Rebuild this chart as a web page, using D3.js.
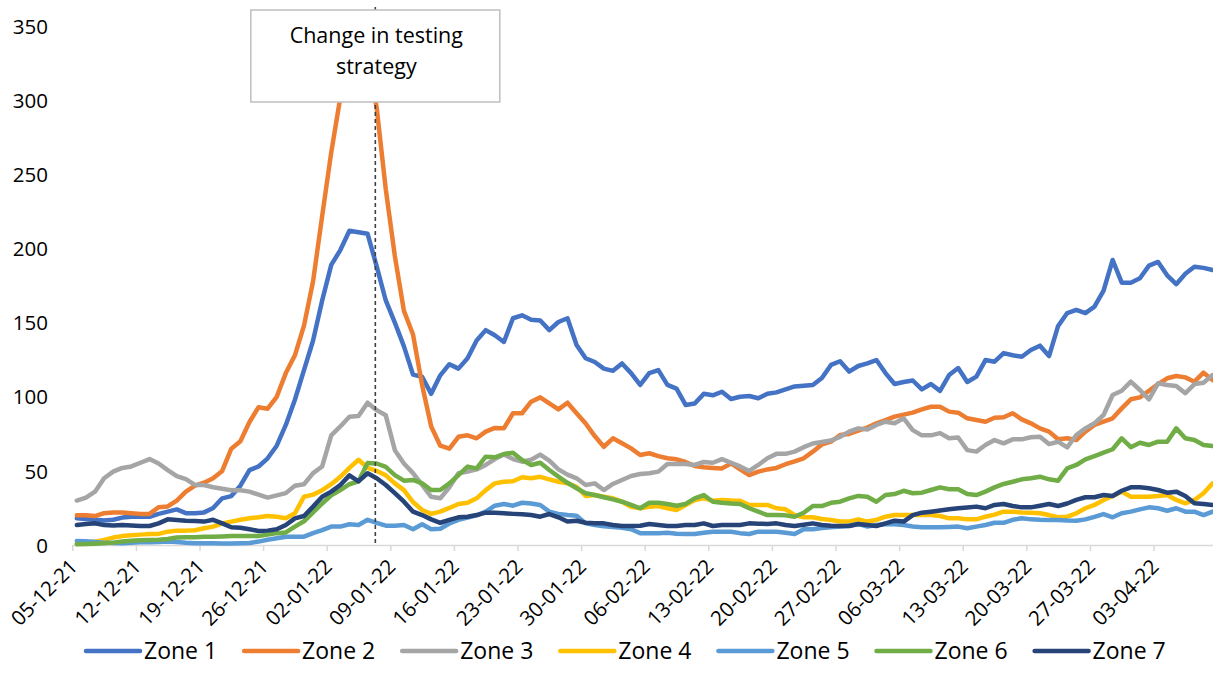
<!DOCTYPE html>
<html><head><meta charset="utf-8">
<script src="https://cdn.jsdelivr.net/npm/d3@7"></script>
<style>body{margin:0;background:#fff} svg{display:block} text{font-family:"Open Sans",sans-serif}</style>
</head><body><svg id="chart" width="1213" height="691"></svg>
<script>
const tickLabels = ["05-12-21","12-12-21","19-12-21","26-12-21","02-01-22","09-01-22","16-01-22","23-01-22","30-01-22","06-02-22","13-02-22","20-02-22","27-02-22","06-03-22","13-03-22","20-03-22","27-03-22","03-04-22"];
const yTicks = [0,50,100,150,200,250,300,350];
const seriesNames = ["Zone 1","Zone 2","Zone 3","Zone 4","Zone 5","Zone 6","Zone 7"];
const colors = ["#4472c4","#ed7d31","#a5a5a5","#ffc000","#5b9bd5","#70ad47","#264478"];
const annotationText = ["Change in testing","strategy"];
const annotationDay = [32.85];

const zone1 = [
18,17.5,17,16.5,17,18.5,19,
19,19,21,22.5,24,21.5,21.5,
22,25,31.5,33,40,50.5,53,
58.5,67,81,98,118,138,165,
189,199,212,211,210,188,165,
150,134,115,113.5,102,114.5,122,
119,126,138,145,141.5,137,153,
155,152,151.5,145,150.5,153,135,
126,123.5,119,117.5,122.5,116,108,
116,118,108,105.5,94.5,95.5,102,
101,103.4,98.5,100,100.5,99,102,
103,105,107,107.5,108,112.7,121.5,
124,117,120.8,122.5,124.8,116,108.6,
110,111,105,108.6,104,114.7,119.4,
110,113.6,124.8,123.7,129.5,128,127,
131.6,134.5,127.5,147.8,156.5,158.6,156.5,
160.8,171.6,192.3,177,177,180,188.5,
191,182,176,183,187.8,187,185.6];
const zone2 = [
20,20,19.5,21.5,22,22,21.5,
21,21,25.5,26,30,36,40,
42,45,50,65,70,83,93,
92,100,116,128,148,178,222,
265,302,330,345,330,295,240,
195,158,142,108,80,67,65,
73,74,72,76.5,79,78.7,88.9,
88.9,96.7,99.6,95.6,91.5,96,88.9,
82,73.5,66.3,72,68.6,65.2,60.7,
61.9,60,58.5,57.8,56,53.3,52.4,
52,51.7,55,51,47.2,49.5,51,
52,54.5,56.5,58.5,63,67.9,69.7,
74.2,74.9,77.1,79.2,82.1,84.3,86.6,
88,89.3,91.5,93.3,93.3,90,89.3,
85.5,84.3,83.2,85.9,86.2,88.9,84.8,
82.1,78.7,76.5,71.3,72,70.8,76.5,
81,83.2,85.5,92.2,98.3,99.6,104.1,
108.6,112.5,114,113.1,110.2,116.3,111.3];
const zone3 = [
30,32,36,45,49.5,52,53,
55.5,58,55,50.5,46.5,44.5,40.5,
40.5,39,38,37,37,36,34,
32,33.5,35,40,41,48.5,53,
74,80,86.5,87,96,91,87.5,
64,55,48.5,40.5,32.5,31.5,39,
48.4,49.5,51,54,58,61,58,
56.2,57.5,61,57,51,47.5,45,
40.5,41.6,37.1,41.2,43.9,46.6,47.9,
48.4,49.5,54.7,54.7,54.7,54,56,
55.5,58,55.5,53,50,54,58.5,
61.5,61.5,63,66,68.5,69.5,70.5,
73,76.5,78.7,78,81,83.2,82.1,
85.5,77.5,74,74,75.5,72,72.5,
64,63,67.5,70.8,68.6,71.3,71.3,
72.7,73.1,68.1,69.7,65.9,74.2,78.7,
82.1,87.7,101.2,104.1,110.2,104.6,98.3,
109.1,108,107.3,102.4,108.6,109.5,114.7];
const zone4 = [
1,1.5,2.3,3.4,5,6,6.5,
7,7.5,7.5,9,9.7,9.7,10,
11.3,12.4,14.6,15.8,17,18,18.7,
19.6,19,18,21.4,32.6,34,37,
41,46,52,57.5,52,50,47,
41.6,37,29,23.6,21,22.5,25,
27.7,28.5,31.5,37,41.6,42.7,43,
45.7,45,46,44.3,42.7,41.6,39.3,
33.1,33.7,32.6,31.5,29.2,25.8,24.8,
25.8,26.3,24.8,23.6,27,30.4,31.5,
29.9,30.4,30,29.9,27,27,27,
24.8,24.1,20.2,18.7,18.7,17.5,16.9,
15.8,15.8,17.3,15.8,16.9,19.1,20.2,
20.2,20.2,20.2,20.2,19.6,18,18,
17.3,17.3,19.1,20.5,22.5,22.5,22,
21.8,21.4,20.2,18.7,19.1,21.4,24.8,
27,30.4,33.1,36,32.6,32.6,32.6,
33.1,33.7,30.4,28.1,30.4,34.9,41.6];
const zone5 = [
2.7,2.5,2,1.6,1.3,1.2,1.5,
1.8,1.8,2,2.3,2,1.5,1.2,
1.1,1.1,1,1,1.1,1.3,2.3,
3.5,4.5,5.6,5.6,5.6,8,10,
12.4,12.4,14,13.5,17,15,13,
13,13.5,10.6,14,10.6,11,14.5,
17,18.5,20,22.5,26.5,27.7,26.5,
28.5,28,27,22.5,21,20.2,19.8,
14.6,13.5,12.6,12.2,11.7,10.6,8,
7.9,8,8.3,7.6,7.4,7.4,8.3,
9,9,9,8,7.4,9,9,
9,8.3,7.4,10.6,10.6,11.5,12,
12.4,13,14.2,12.4,13.5,14,14,
13.5,12.5,12,11.9,11.9,12.2,12.4,
11.3,12.4,13.5,15,15,17,18,
17.3,17,16.9,16.9,16.5,16.4,17.3,
19,20.9,18.7,21.4,22.5,24,25.4,
24.8,23.1,24.8,22.5,22.5,20.2,22.5];
const zone6 = [
0.5,0.7,0.9,1.1,1.6,2.3,2.8,
3.2,3.4,3.6,4,5,5.2,5.2,
5.6,5.6,5.8,6,6,6,6.1,
7,8,8.5,12.4,16,22,28,
33.5,37,41,43,55.3,55,52.7,
47.2,43.4,43.9,41.6,37.1,37.1,41.6,
47.2,52.9,51.7,59.6,59.2,61.4,62.3,
57.4,54,55.5,50.6,46.1,42,38.3,
34.9,33.7,32.2,30.8,29.2,27,24.8,
28.5,28.5,27.7,26.5,27.7,31.5,33.7,
29.2,28.5,28,27.7,24.8,22.5,20.2,
20.2,20,19.1,21.8,26.3,26.3,28.5,
29.2,31.5,33.1,32.6,29.2,33.7,34.4,
36.6,34.9,35.3,37.1,38.9,37.6,37.6,
34.4,33.7,36,38.9,41.2,42.7,44.3,
45,46.1,44.3,43.4,51.7,54,57.8,
60,62.3,64.6,72,66,69,67.5,
69.7,69.7,78.7,72,70.8,67.5,66.8];
const zone7 = [
13.5,14.2,14.6,13.5,13.1,13.5,13.1,
12.8,12.8,14.6,17.3,16.9,16.4,16.2,
15.8,17,14.6,12,11.7,10.6,9.5,
9.7,10.6,13.5,18,19.6,25.9,32.6,
36,40.5,47,43,48.4,45,40.5,
35,29.2,22.5,20.2,17.3,15,16.9,
18.7,19.1,20.2,21.8,21.8,21.4,21,
20.7,20.2,19.1,20.9,18.7,15.8,16.4,
15,14.6,14.6,13.5,12.8,12.8,13,
14.2,13.5,12.8,12.8,13.5,13.5,14.6,
12.8,13.5,13.5,13.5,14.6,14.4,14.2,
14.6,13.5,12.8,13.7,14.6,13.5,13,
12.8,12.8,14.2,13.5,12.8,14.6,16.4,
15.8,20.2,21.8,22.5,23.3,24.1,24.8,
25.3,25.9,24.8,27,27.7,26.3,25.4,
25.4,26.5,27.7,26.3,28,30.4,32.2,
32.2,33.7,33.1,36.6,38.9,38.9,38.3,
37.1,35.3,36,33.1,28.1,27.7,27];
const series = [zone1,zone2,zone3,zone4,zone5,zone6,zone7];

const svg = d3.select("#chart");
const nDays = zone1.length;
const x = d3.scaleLinear().domain([-0.5, nDays - 0.5]).range([72.3, 72.3 + nDays * 9.086]);
const y = d3.scaleLinear().domain([0, 350]).range([545, 26.3]);

// X axis
const xAxis = d3.axisBottom(x)
  .tickValues(tickLabels.map((_, i) => 7 * i - 0.5))
  .tickFormat((d, i) => tickLabels[i])
  .tickSize(6).tickSizeOuter(0);
const gx = svg.append("g").attr("transform", `translate(0,${y(0)})`).call(xAxis);
gx.select(".domain").attr("stroke", "#d9d9d9").attr("stroke-width", 1.5);
gx.selectAll(".tick line").attr("stroke", "#d9d9d9").attr("stroke-width", 1.5);
gx.selectAll(".tick text")
  .attr("font-size", 20.5).attr("fill", "#000")
  .attr("x", 0).attr("y", 0).attr("dy", null)
  .attr("text-anchor", "end")
  .attr("transform", "translate(6,23) rotate(-45)");

// Y axis
const yAxis = d3.axisLeft(y).tickValues(yTicks).tickSize(0).tickPadding(0);
const gy = svg.append("g").attr("transform", "translate(48,0)").call(yAxis);
gy.select(".domain").remove();
gy.selectAll(".tick text").attr("font-size", 20.5).attr("fill", "#000").attr("dy", "0.35em");

// Lines
const line = d3.line().x((d, i) => x(i)).y(d => y(d));
svg.append("g").selectAll("path").data(series).join("path")
  .attr("d", line)
  .attr("fill", "none")
  .attr("stroke", (d, i) => colors[i])
  .attr("stroke-width", 4.5)
  .attr("stroke-linejoin", "round")
  .attr("stroke-linecap", "round");

// Dashed line
svg.append("line")
  .attr("x1", x(annotationDay[0])).attr("x2", x(annotationDay[0]))
  .attr("y1", 7).attr("y2", y(0))
  .attr("stroke", "#404040").attr("stroke-width", 1.6)
  .attr("stroke-dasharray", "4,3");

// Annotation box
const bx = x(annotationDay[0]);
svg.append("rect")
  .attr("x", bx - 124.5).attr("y", 10).attr("width", 249).attr("height", 92)
  .attr("fill", "#fff").attr("stroke", "#bfbfbf").attr("stroke-width", 1.5);
svg.append("g").selectAll("text").data(annotationText).join("text")
  .attr("x", bx + 1).attr("y", (d, i) => 43 + i * 31)
  .attr("text-anchor", "middle").attr("font-size", 21.5).attr("fill", "#000")
  .text(d => d);

// Legend
const lg = svg.append("g").selectAll("g").data(seriesNames).join("g")
  .attr("transform", (d, i) => `translate(${86 + 158.1 * i},651)`);
lg.append("line").attr("x1", 0).attr("x2", 54).attr("y1", 0).attr("y2", 0)
  .attr("stroke", (d, i) => colors[i]).attr("stroke-width", 4.5).attr("stroke-linecap", "round");
lg.append("text").attr("x", 58).attr("y", 0).attr("dy", "0.35em")
  .attr("font-size", 23).attr("fill", "#000").text(d => d);
</script></body></html>
